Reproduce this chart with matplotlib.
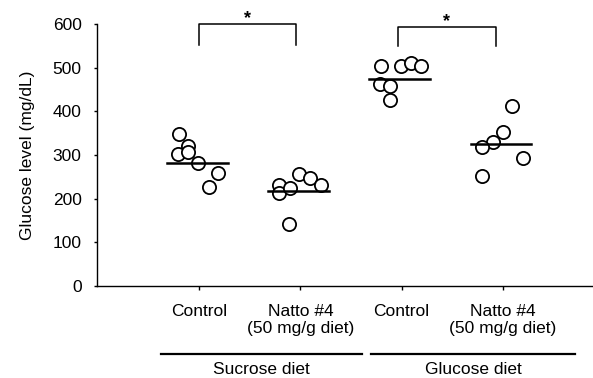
#!/usr/bin/env python3

import numpy as np
import matplotlib
matplotlib.use("Agg")
import matplotlib.pyplot as plt

plt.rcParams['font.family'] = ['Liberation Sans', 'DejaVu Sans']

# group positions and labels
group_pos = [1, 2, 3, 4]
group_labels = ["Control", "Natto #4\n(50 mg/g diet)", "Control", "Natto #4\n(50 mg/g diet)"]
diet_labels = ["Sucrose diet", "Glucose diet"]

# individual animals, x offset from group centre and glucose level (mg/dL)
suc_ctrl_dx = [-0.20, -0.11, -0.21, -0.11, -0.01, 0.19, 0.10]
suc_ctrl_y = [347, 321, 302, 308, 281, 259, 227]
suc_natto_dx = [-0.21, -0.21, -0.10, -0.01, 0.09, 0.20, -0.11]
suc_natto_y = [231, 212, 224, 256, 247, 232, 143]
glu_ctrl_dx = [-0.20, -0.01, 0.09, 0.19, -0.21, -0.12, -0.12]
glu_ctrl_y = [504, 504, 511, 504, 462, 458, 426]
glu_natto_dx = [0.09, 0.00, -0.10, -0.21, 0.20, -0.21]
glu_natto_y = [413, 353, 329, 318, 294, 253]

# horizontal bar per group as drawn in the figure
group_bar = [282, 218, 474, 326]

# significance brackets: (x1, x2, top, bottom)
brackets = [(1.0, 1.96, 600, 552), (2.96, 3.93, 593, 550)]


def main():
    fig = plt.figure(figsize=(5.93, 3.78), dpi=100)
    ax = fig.add_axes([97 / 593, 1 - 286 / 378, 1 - 97 / 593, 262 / 378])

    groups = [(suc_ctrl_dx, suc_ctrl_y), (suc_natto_dx, suc_natto_y),
              (glu_ctrl_dx, glu_ctrl_y), (glu_natto_dx, glu_natto_y)]
    for pos, (dx, ys), bar in zip(group_pos, groups, group_bar):
        xs = pos + np.array(dx)
        ax.plot(xs, ys, 'o', ms=9.5, mfc='white', mec='black', mew=1.3,
                clip_on=False, zorder=3)
        ax.plot([pos - 0.32, pos + 0.28], [bar, bar], color='black', lw=1.8,
                zorder=4)

    for x1, x2, top, bot in brackets:
        ax.plot([x1, x1, x2, x2], [bot, top, top, bot], color='black', lw=1.1,
                clip_on=False)
        ax.text((x1 + x2) / 2, top - 8, '*', ha='center', va='bottom',
                fontsize=13, fontweight='bold')

    ax.set_xlim(-0.01, 4.89)
    ax.set_ylim(0, 600)
    ax.set_yticks(range(0, 601, 100))
    ax.set_xticks(group_pos)
    ax.set_xticklabels(group_labels, fontsize=12.5, linespacing=1.2)
    ax.tick_params(axis='y', labelsize=12.5, length=2, width=1.0, pad=9)
    ax.tick_params(axis='x', length=3, width=1.0, pad=10)
    ax.set_ylabel("Glucose level (mg/dL)", fontsize=12.5, labelpad=13)
    ax.spines['top'].set_visible(False)
    ax.spines['right'].set_visible(False)
    for s in ('left', 'bottom'):
        ax.spines[s].set_linewidth(1.0)

    # diet group underlines and labels
    trans = ax.get_xaxis_transform()
    for (x1, x2), lab in zip([(0.62, 2.61), (2.70, 4.71)], diet_labels):
        ax.plot([x1, x2], [-0.26, -0.26], color='black', lw=1.6,
                transform=trans, clip_on=False)
        ax.text((x1 + x2) / 2, -0.29, lab, ha='center', va='top',
                fontsize=12.5, transform=trans)

    fig.savefig("out.png", dpi=100)


if __name__ == "__main__":
    main()
